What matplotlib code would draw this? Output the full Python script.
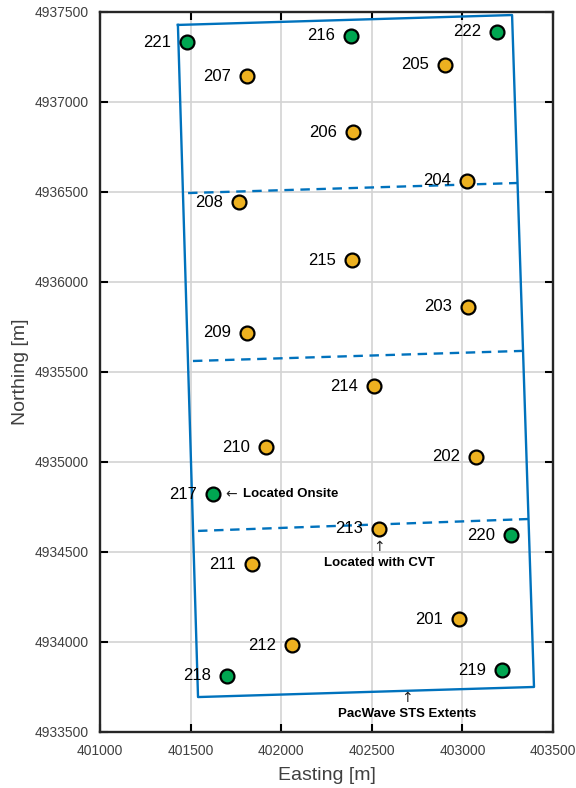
import matplotlib
matplotlib.use('Agg')
import matplotlib.pyplot as plt
from matplotlib.ticker import MultipleLocator, FormatStrFormatter

plt.rcParams['font.family'] = ['Liberation Sans', 'DejaVu Sans']

# Station positions (UTM easting / northing, m)
orange_ids = ['201', '202', '203', '204', '205', '206', '207', '208',
              '209', '210', '211', '212', '213', '214', '215']
orange_e = [402981, 403075, 403031, 403025, 402904, 402396, 401811, 401767,
            401811, 401916, 401839, 402060, 402540, 402512, 402391]
orange_n = [4934125, 4935028, 4935861, 4936561, 4937206, 4936833, 4937144, 4936444,
            4935717, 4935083, 4934433, 4933983, 4934628, 4935422, 4936122]

green_ids = ['216', '217', '218', '219', '220', '221', '222']
green_e = [402385, 401624, 401700, 403219, 403268, 401480, 403191]
green_n = [4937367, 4934822, 4933811, 4933844, 4934594, 4937333, 4937389]

# Site extents and interior divisions
extent_e = [401430, 403274, 403395, 401541, 401430]
extent_n = [4937428, 4937483, 4933750, 4933694, 4937428]

div_e = [[401486, 403307], [401513, 403329], [401541, 403362]]
div_n = [[4936494, 4936550], [4935561, 4935617], [4934617, 4934683]]

blue = '#0072BD'
orange = '#EDB120'
green = '#00A651'

fig = plt.figure(figsize=(5.76, 7.88), dpi=100)
ax = fig.add_axes([0.1736, 0.0711, 0.7865, 0.9137])

ax.plot(extent_e, extent_n, color=blue, lw=1.7, zorder=3)
for xe, yn in zip(div_e, div_n):
    ax.plot(xe, yn, color=blue, lw=1.7, dashes=(4, 2.8), zorder=3)

ax.plot(orange_e, orange_n, 'o', ms=10, mfc=orange, mec='black', mew=1.6,
        ls='none', zorder=5)
ax.plot(green_e, green_n, 'o', ms=10, mfc=green, mec='black', mew=1.6,
        ls='none', zorder=5)

for ids, es, ns in [(orange_ids, orange_e, orange_n), (green_ids, green_e, green_n)]:
    for s, e, n in zip(ids, es, ns):
        ax.annotate(s, (e, n), xytext=(-11.5, 0), textcoords='offset points',
                    ha='right', va='center', fontsize=12, color='black', zorder=6)

# Notes
arrow_font = ['DejaVu Sans']
ax.text(401690, 4934822, '\u2190', ha='left', va='center', fontsize=10,
        family=arrow_font, color='#222222')
ax.text(401789, 4934822, 'Located Onsite', ha='left', va='center',
        fontsize=9.5, fontweight='bold')
ax.text(402540, 4934525, '\u2191', ha='center', va='center', fontsize=10,
        family=arrow_font, color='#222222')
ax.text(402540, 4934439, 'Located with CVT', ha='center', va='center',
        fontsize=9.5, fontweight='bold')
ax.text(402694, 4933690, '\u2191', ha='center', va='center', fontsize=10,
        family=arrow_font, color='#222222')
ax.text(402694, 4933600, 'PacWave STS Extents', ha='center', va='center',
        fontsize=9.5, fontweight='bold')

ax.set_xlim(401000, 403500)
ax.set_ylim(4933500, 4937500)
ax.xaxis.set_major_locator(MultipleLocator(500))
ax.yaxis.set_major_locator(MultipleLocator(500))
ax.xaxis.set_major_formatter(FormatStrFormatter('%d'))
ax.yaxis.set_major_formatter(FormatStrFormatter('%d'))
ax.tick_params(direction='in', length=6, width=1.5, top=True, right=True,
               labelsize=10, labelcolor='#404040')
ax.tick_params(axis='x', pad=9)
ax.tick_params(axis='y', pad=8)
ax.grid(True, color='#d3d3d3', lw=1.2)
ax.set_axisbelow(True)
for sp in ax.spines.values():
    sp.set_linewidth(1.7)
    sp.set_color('#262626')

ax.set_xlabel('Easting [m]', fontsize=14, color='#404040', labelpad=6)
ax.set_ylabel('Northing [m]', fontsize=14, color='#404040', labelpad=4)

fig.savefig('out.png', dpi=100)
